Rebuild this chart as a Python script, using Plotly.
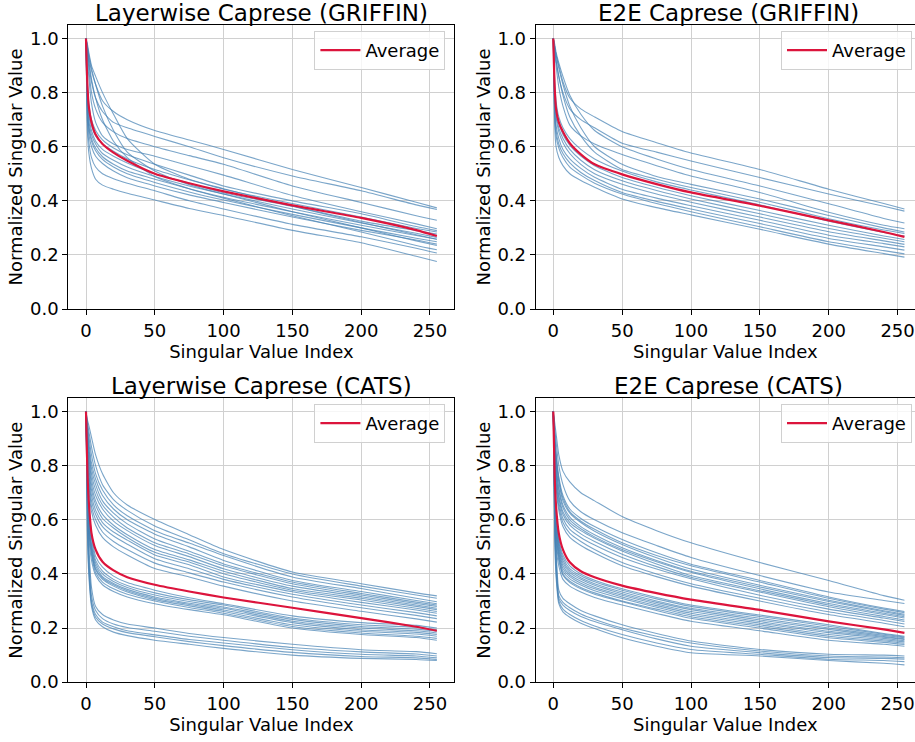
import plotly.graph_objects as go

# Singular value index positions at which the curves were read
X = [0, 1, 2, 4, 7, 12, 20, 30, 50, 75, 100, 150, 200, 240, 255]

# ---------------- Layerwise Caprese (GRIFFIN) ----------------
lw_griffin_lines = [
    [1.0, 0.97, 0.93, 0.88, 0.83, 0.77, 0.73, 0.70, 0.66, 0.625, 0.59, 0.516, 0.449, 0.395, 0.374],
    [1.0, 0.96, 0.91, 0.84, 0.78, 0.73, 0.69, 0.67, 0.638, 0.60, 0.559, 0.492, 0.437, 0.385, 0.368],
    [1.0, 0.95, 0.89, 0.80, 0.74, 0.69, 0.655, 0.63, 0.60, 0.567, 0.535, 0.455, 0.394, 0.345, 0.328],
    [1.0, 0.93, 0.86, 0.76, 0.69, 0.64, 0.61, 0.59, 0.565, 0.53, 0.495, 0.42, 0.36, 0.315, 0.297],
    [1.0, 0.97, 0.94, 0.89, 0.83, 0.75, 0.66, 0.58, 0.51, 0.46, 0.425, 0.36, 0.30, 0.252, 0.235],
    [1.0, 0.98, 0.95, 0.90, 0.86, 0.80, 0.72, 0.63, 0.535, 0.48, 0.445, 0.38, 0.32, 0.275, 0.258],
    [1.0, 0.96, 0.92, 0.85, 0.78, 0.70, 0.62, 0.56, 0.49, 0.445, 0.41, 0.345, 0.285, 0.235, 0.219],
    [1.0, 0.84, 0.76, 0.70, 0.66, 0.625, 0.595, 0.57, 0.535, 0.495, 0.455, 0.40, 0.352, 0.305, 0.29],
    [1.0, 0.82, 0.74, 0.68, 0.64, 0.61, 0.583, 0.555, 0.516, 0.478, 0.443, 0.39, 0.34, 0.298, 0.285],
    [1.0, 0.80, 0.72, 0.66, 0.62, 0.59, 0.565, 0.54, 0.50, 0.465, 0.43, 0.38, 0.325, 0.29, 0.277],
    [1.0, 0.78, 0.70, 0.645, 0.61, 0.575, 0.55, 0.525, 0.49, 0.455, 0.425, 0.37, 0.318, 0.28, 0.265],
    [1.0, 0.76, 0.68, 0.63, 0.595, 0.563, 0.535, 0.51, 0.48, 0.445, 0.413, 0.36, 0.31, 0.272, 0.258],
    [1.0, 0.75, 0.67, 0.62, 0.585, 0.553, 0.525, 0.50, 0.468, 0.433, 0.403, 0.35, 0.30, 0.262, 0.249],
    [1.0, 0.73, 0.65, 0.60, 0.565, 0.538, 0.51, 0.485, 0.455, 0.422, 0.394, 0.34, 0.291, 0.255, 0.24],
    [1.0, 0.70, 0.62, 0.56, 0.525, 0.50, 0.482, 0.465, 0.437, 0.40, 0.37, 0.313, 0.267, 0.225, 0.207],
    [1.0, 0.66, 0.58, 0.52, 0.48, 0.458, 0.443, 0.428, 0.403, 0.372, 0.346, 0.291, 0.245, 0.195, 0.176],
]
lw_griffin_avg = [1.0, 0.83, 0.75, 0.69, 0.645, 0.61, 0.578, 0.548, 0.50, 0.465, 0.435, 0.383, 0.337, 0.292, 0.27]

# ---------------- E2E Caprese (GRIFFIN) ----------------
e2e_griffin_lines = [
    [1.0, 0.97, 0.94, 0.90, 0.84, 0.78, 0.74, 0.71, 0.656, 0.615, 0.577, 0.516, 0.443, 0.39, 0.37],
    [1.0, 0.96, 0.92, 0.86, 0.80, 0.74, 0.70, 0.67, 0.613, 0.58, 0.547, 0.486, 0.425, 0.38, 0.362],
    [1.0, 0.98, 0.95, 0.91, 0.86, 0.79, 0.72, 0.66, 0.60, 0.555, 0.516, 0.455, 0.389, 0.335, 0.318],
    [1.0, 0.95, 0.90, 0.82, 0.75, 0.68, 0.64, 0.61, 0.571, 0.53, 0.492, 0.431, 0.358, 0.31, 0.297],
    [1.0, 0.97, 0.94, 0.89, 0.83, 0.75, 0.67, 0.60, 0.535, 0.49, 0.461, 0.407, 0.346, 0.30, 0.285],
    [1.0, 0.96, 0.92, 0.86, 0.79, 0.71, 0.64, 0.58, 0.516, 0.48, 0.449, 0.395, 0.334, 0.292, 0.279],
    [1.0, 0.85, 0.77, 0.71, 0.67, 0.63, 0.59, 0.555, 0.51, 0.47, 0.44, 0.385, 0.325, 0.283, 0.27],
    [1.0, 0.82, 0.74, 0.69, 0.645, 0.605, 0.565, 0.53, 0.486, 0.45, 0.419, 0.364, 0.31, 0.27, 0.257],
    [1.0, 0.80, 0.72, 0.67, 0.63, 0.59, 0.55, 0.515, 0.474, 0.438, 0.407, 0.352, 0.298, 0.262, 0.249],
    [1.0, 0.79, 0.71, 0.655, 0.615, 0.575, 0.535, 0.50, 0.461, 0.425, 0.395, 0.34, 0.286, 0.252, 0.239],
    [1.0, 0.76, 0.68, 0.63, 0.59, 0.555, 0.52, 0.487, 0.443, 0.41, 0.382, 0.328, 0.273, 0.242, 0.23],
    [1.0, 0.74, 0.66, 0.61, 0.575, 0.54, 0.505, 0.475, 0.431, 0.398, 0.37, 0.316, 0.261, 0.23, 0.218],
    [1.0, 0.72, 0.64, 0.595, 0.56, 0.525, 0.495, 0.465, 0.425, 0.39, 0.36, 0.304, 0.249, 0.216, 0.204],
    [1.0, 0.68, 0.60, 0.56, 0.53, 0.50, 0.475, 0.45, 0.407, 0.375, 0.348, 0.295, 0.24, 0.205, 0.192],
]
e2e_griffin_avg = [1.0, 0.82, 0.74, 0.69, 0.655, 0.613, 0.572, 0.535, 0.498, 0.462, 0.431, 0.382, 0.328, 0.285, 0.267]

# ---------------- Layerwise Caprese (CATS) ----------------
lw_cats_lines = [
    [1.0, 0.97, 0.95, 0.905, 0.84, 0.77, 0.70, 0.655, 0.601, 0.545, 0.49, 0.407, 0.364, 0.33, 0.319],
    [1.0, 0.96, 0.93, 0.87, 0.80, 0.73, 0.675, 0.635, 0.577, 0.526, 0.475, 0.40, 0.355, 0.322, 0.31],
    [1.0, 0.95, 0.91, 0.84, 0.77, 0.71, 0.655, 0.615, 0.56, 0.514, 0.468, 0.389, 0.346, 0.31, 0.297],
    [1.0, 0.94, 0.89, 0.81, 0.75, 0.69, 0.64, 0.60, 0.547, 0.50, 0.45, 0.376, 0.335, 0.302, 0.29],
    [1.0, 0.93, 0.87, 0.79, 0.73, 0.67, 0.625, 0.585, 0.529, 0.484, 0.437, 0.37, 0.328, 0.296, 0.285],
    [1.0, 0.92, 0.86, 0.77, 0.71, 0.655, 0.61, 0.57, 0.515, 0.474, 0.43, 0.364, 0.322, 0.291, 0.28],
    [1.0, 0.91, 0.84, 0.75, 0.69, 0.64, 0.595, 0.56, 0.505, 0.464, 0.419, 0.355, 0.316, 0.285, 0.273],
    [1.0, 0.90, 0.82, 0.73, 0.67, 0.62, 0.58, 0.545, 0.49, 0.452, 0.41, 0.346, 0.31, 0.28, 0.268],
    [1.0, 0.89, 0.80, 0.71, 0.655, 0.605, 0.57, 0.535, 0.48, 0.444, 0.401, 0.34, 0.304, 0.273, 0.261],
    [1.0, 0.88, 0.78, 0.69, 0.635, 0.59, 0.555, 0.525, 0.47, 0.434, 0.389, 0.334, 0.295, 0.267, 0.255],
    [1.0, 0.86, 0.76, 0.67, 0.62, 0.575, 0.54, 0.51, 0.456, 0.419, 0.38, 0.325, 0.285, 0.257, 0.245],
    [1.0, 0.85, 0.74, 0.65, 0.60, 0.555, 0.52, 0.49, 0.44, 0.404, 0.37, 0.315, 0.275, 0.247, 0.235],
    [1.0, 0.83, 0.72, 0.63, 0.58, 0.535, 0.50, 0.47, 0.42, 0.389, 0.355, 0.30, 0.262, 0.234, 0.222],
    [1.0, 0.80, 0.66, 0.55, 0.465, 0.425, 0.392, 0.368, 0.34, 0.312, 0.29, 0.245, 0.22, 0.21, 0.20],
    [1.0, 0.78, 0.64, 0.53, 0.45, 0.41, 0.38, 0.357, 0.33, 0.305, 0.285, 0.237, 0.212, 0.203, 0.194],
    [1.0, 0.76, 0.62, 0.51, 0.44, 0.40, 0.372, 0.35, 0.322, 0.298, 0.278, 0.232, 0.206, 0.196, 0.188],
    [1.0, 0.75, 0.60, 0.50, 0.43, 0.39, 0.365, 0.343, 0.315, 0.292, 0.273, 0.225, 0.20, 0.19, 0.182],
    [1.0, 0.73, 0.59, 0.49, 0.42, 0.385, 0.36, 0.338, 0.31, 0.287, 0.267, 0.22, 0.194, 0.184, 0.176],
    [1.0, 0.72, 0.58, 0.48, 0.415, 0.38, 0.355, 0.333, 0.305, 0.282, 0.261, 0.212, 0.188, 0.178, 0.17],
    [1.0, 0.70, 0.56, 0.47, 0.405, 0.37, 0.345, 0.325, 0.30, 0.276, 0.255, 0.206, 0.182, 0.17, 0.162],
    [1.0, 0.68, 0.54, 0.45, 0.395, 0.36, 0.335, 0.315, 0.29, 0.268, 0.249, 0.20, 0.176, 0.165, 0.155],
    [1.0, 0.70, 0.52, 0.35, 0.28, 0.25, 0.23, 0.215, 0.20, 0.18, 0.165, 0.14, 0.12, 0.113, 0.105],
    [1.0, 0.66, 0.48, 0.32, 0.265, 0.235, 0.215, 0.202, 0.188, 0.17, 0.155, 0.128, 0.112, 0.104, 0.097],
    [1.0, 0.62, 0.45, 0.30, 0.25, 0.222, 0.205, 0.19, 0.175, 0.158, 0.145, 0.12, 0.103, 0.097, 0.09],
    [1.0, 0.58, 0.42, 0.29, 0.24, 0.215, 0.197, 0.183, 0.168, 0.15, 0.135, 0.11, 0.095, 0.09, 0.084],
    [1.0, 0.55, 0.40, 0.28, 0.23, 0.205, 0.185, 0.172, 0.155, 0.14, 0.125, 0.10, 0.088, 0.084, 0.08],
]
lw_cats_avg = [1.0, 0.78, 0.67, 0.55, 0.49, 0.445, 0.413, 0.388, 0.36, 0.335, 0.313, 0.275, 0.237, 0.205, 0.19]

# ---------------- E2E Caprese (CATS) ----------------
e2e_cats_lines = [
    [1.0, 0.96, 0.92, 0.84, 0.78, 0.74, 0.70, 0.67, 0.612, 0.56, 0.515, 0.442, 0.376, 0.32, 0.303],
    [1.0, 0.94, 0.89, 0.80, 0.73, 0.67, 0.63, 0.60, 0.552, 0.505, 0.461, 0.394, 0.333, 0.302, 0.291],
    [1.0, 0.92, 0.85, 0.76, 0.69, 0.64, 0.605, 0.575, 0.527, 0.478, 0.436, 0.376, 0.315, 0.274, 0.261],
    [1.0, 0.91, 0.84, 0.75, 0.68, 0.63, 0.595, 0.565, 0.515, 0.468, 0.43, 0.37, 0.31, 0.27, 0.257],
    [1.0, 0.90, 0.83, 0.74, 0.67, 0.625, 0.59, 0.558, 0.509, 0.46, 0.418, 0.358, 0.303, 0.264, 0.251],
    [1.0, 0.89, 0.81, 0.72, 0.655, 0.61, 0.575, 0.545, 0.497, 0.45, 0.41, 0.352, 0.298, 0.26, 0.247],
    [1.0, 0.88, 0.80, 0.71, 0.645, 0.60, 0.567, 0.537, 0.49, 0.445, 0.406, 0.345, 0.291, 0.255, 0.242],
    [1.0, 0.87, 0.78, 0.69, 0.63, 0.59, 0.56, 0.532, 0.485, 0.437, 0.394, 0.338, 0.285, 0.25, 0.237],
    [1.0, 0.86, 0.77, 0.68, 0.62, 0.58, 0.548, 0.52, 0.473, 0.427, 0.388, 0.333, 0.279, 0.243, 0.23],
    [1.0, 0.85, 0.75, 0.665, 0.605, 0.565, 0.535, 0.507, 0.461, 0.418, 0.382, 0.321, 0.27, 0.237, 0.224],
    [1.0, 0.83, 0.73, 0.65, 0.59, 0.55, 0.52, 0.49, 0.442, 0.40, 0.364, 0.31, 0.26, 0.228, 0.215],
    [1.0, 0.82, 0.72, 0.635, 0.575, 0.535, 0.505, 0.477, 0.43, 0.39, 0.355, 0.30, 0.25, 0.218, 0.205],
    [1.0, 0.80, 0.64, 0.53, 0.47, 0.43, 0.40, 0.377, 0.345, 0.313, 0.285, 0.248, 0.212, 0.18, 0.17],
    [1.0, 0.78, 0.62, 0.52, 0.46, 0.42, 0.393, 0.371, 0.34, 0.308, 0.28, 0.243, 0.207, 0.177, 0.167],
    [1.0, 0.77, 0.61, 0.51, 0.45, 0.412, 0.386, 0.364, 0.333, 0.30, 0.273, 0.236, 0.20, 0.173, 0.164],
    [1.0, 0.75, 0.60, 0.50, 0.44, 0.405, 0.38, 0.358, 0.327, 0.295, 0.268, 0.23, 0.195, 0.169, 0.16],
    [1.0, 0.74, 0.58, 0.49, 0.43, 0.397, 0.373, 0.351, 0.321, 0.289, 0.261, 0.224, 0.188, 0.166, 0.158],
    [1.0, 0.72, 0.57, 0.48, 0.42, 0.39, 0.366, 0.345, 0.315, 0.283, 0.255, 0.218, 0.183, 0.162, 0.153],
    [1.0, 0.71, 0.55, 0.47, 0.41, 0.382, 0.359, 0.338, 0.309, 0.277, 0.248, 0.212, 0.176, 0.157, 0.149],
    [1.0, 0.69, 0.54, 0.46, 0.40, 0.373, 0.35, 0.33, 0.30, 0.27, 0.242, 0.206, 0.17, 0.152, 0.144],
    [1.0, 0.68, 0.52, 0.45, 0.395, 0.368, 0.345, 0.325, 0.297, 0.265, 0.236, 0.20, 0.164, 0.147, 0.139],
    [1.0, 0.66, 0.50, 0.43, 0.38, 0.355, 0.333, 0.313, 0.285, 0.254, 0.225, 0.19, 0.155, 0.14, 0.133],
    [1.0, 0.68, 0.50, 0.34, 0.31, 0.29, 0.265, 0.245, 0.212, 0.18, 0.152, 0.121, 0.103, 0.10, 0.097],
    [1.0, 0.64, 0.47, 0.32, 0.295, 0.275, 0.252, 0.232, 0.20, 0.17, 0.145, 0.115, 0.097, 0.093, 0.09],
    [1.0, 0.60, 0.44, 0.31, 0.285, 0.265, 0.243, 0.224, 0.194, 0.16, 0.133, 0.109, 0.091, 0.088, 0.085],
    [1.0, 0.57, 0.41, 0.30, 0.27, 0.25, 0.228, 0.208, 0.176, 0.145, 0.121, 0.103, 0.085, 0.08, 0.076],
    [1.0, 0.54, 0.39, 0.29, 0.26, 0.24, 0.218, 0.198, 0.164, 0.133, 0.109, 0.097, 0.08, 0.07, 0.064],
]
e2e_cats_avg = [1.0, 0.76, 0.65, 0.55, 0.49, 0.443, 0.41, 0.388, 0.357, 0.329, 0.305, 0.267, 0.225, 0.195, 0.182]

titles = ["Layerwise Caprese (GRIFFIN)", "E2E Caprese (GRIFFIN)",
          "Layerwise Caprese (CATS)", "E2E Caprese (CATS)"]
x_ticks = [0, 50, 100, 150, 200, 250]
y_ticks = [0.0, 0.2, 0.4, 0.6, 0.8, 1.0]
x_label = "Singular Value Index"
y_label = "Normalized Singular Value"
legend_label = "Average"

panels = [
    (lw_griffin_lines, lw_griffin_avg),
    (e2e_griffin_lines, e2e_griffin_avg),
    (lw_cats_lines, lw_cats_avg),
    (e2e_cats_lines, e2e_cats_avg),
]

W, H = 915, 742
FONT = "DejaVu Sans"
BLUE = "rgba(70,130,180,0.72)"
RED = "#DC143C"

# pixel layout (left, right, top, bottom) of each axes box
col_px = [(68.46, 454.4), (535.74, 922.0)]
row_px = [(25.3, 313.3), (403.5, 691.5)]

fig = go.Figure()
layout = dict(
    width=W, height=H,
    margin=dict(l=0, r=0, t=0, b=0),
    paper_bgcolor="white", plot_bgcolor="white",
    font=dict(family=FONT, size=18, color="black"),
    annotations=[],
)

for i, (lines, avg) in enumerate(panels):
    r, c = divmod(i, 2)
    k = "" if i == 0 else str(i + 1)
    xa, ya = "x" + k, "y" + k
    leg = "legend" + k
    for ln in lines:
        fig.add_trace(go.Scatter(x=X, y=ln, mode="lines", xaxis=xa, yaxis=ya,
                                 line=dict(color=BLUE, width=1.1, shape="spline", smoothing=0.6),
                                 showlegend=False, hoverinfo="skip"))
    fig.add_trace(go.Scatter(x=X, y=avg, mode="lines", xaxis=xa, yaxis=ya,
                             line=dict(color=RED, width=2.2, shape="spline", smoothing=0.6),
                             name=legend_label, showlegend=True, legend=leg))
    left, right = col_px[c]
    top, bottom = row_px[r]
    right_vis = min(right, W)
    x0, x1 = -12.75, 267.75
    x1_vis = x0 + (x1 - x0) * (right_vis - left) / (right - left)
    layout["xaxis" + k] = dict(
        domain=[left / W, right_vis / W], range=[x0, x1_vis], anchor=ya,
        tickvals=x_ticks, ticks="outside", ticklen=5, tickwidth=1, tickcolor="black",
        showline=True, linecolor="black", linewidth=1.2, mirror=True,
        showgrid=True, gridcolor="#d0d0d0", gridwidth=1.2, zeroline=False,
        tickfont=dict(size=18, family=FONT),
        title=dict(text=x_label, font=dict(size=18, family=FONT), standoff=4),
    )
    layout["yaxis" + k] = dict(
        domain=[1 - bottom / H, 1 - top / H], range=[0, 1.05], anchor=xa,
        tickvals=y_ticks, tickformat=".1f", ticks="outside", ticklen=5, tickwidth=1,
        tickcolor="black", showline=True, linecolor="black", linewidth=1.2,
        mirror=(c == 0),
        showgrid=True, gridcolor="#d0d0d0", gridwidth=1.2, zeroline=False,
        tickfont=dict(size=18, family=FONT),
        title=dict(text=y_label, font=dict(size=18, family=FONT), standoff=2),
    )
    layout["annotations"].append(dict(
        text=titles[i], xref="paper", yref="paper",
        x=(left + right) / 2 / W, y=1 - top / H, xanchor="center", yanchor="bottom",
        yshift=-3, showarrow=False, font=dict(size=23, family=FONT, color="black"),
    ))
    leg_right = right - 9 if c == 0 else 912
    layout[leg] = dict(
        x=leg_right / W, xanchor="right", y=1 - (top + 6) / H, yanchor="top",
        bgcolor="rgba(255,255,255,0.8)", bordercolor="#d0d0d0", borderwidth=1,
        font=dict(size=18, family=FONT), itemwidth=40,
    )

fig.update_layout(**layout)
fig.write_html("out.html")
